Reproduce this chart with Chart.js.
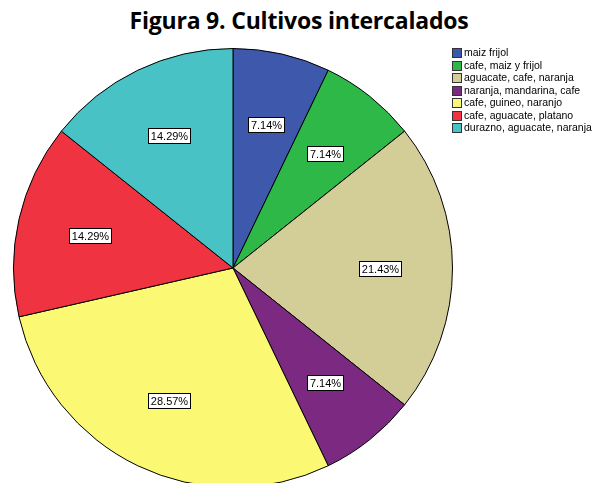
<!DOCTYPE html>
<html>
<head>
<meta charset="utf-8">
<script src="https://cdn.jsdelivr.net/npm/chart.js@4.4.1/dist/chart.umd.min.js"></script>
<style>
    html, body { margin: 0; padding: 0; background: #fff; overflow: hidden; }
    #wrap { position: relative; width: 592px; height: 483px; overflow: hidden; }
    #title {
        position: absolute; left: 0; top: 4px; width: 598px; text-align: center;
        font-family: 'Open Sans', sans-serif; font-weight: bold; font-size: 23px; color: #000;
        letter-spacing: -0.2px;
    }
    #chart { position: absolute; left: 0; top: 0; }
    #legend {
        position: absolute; left: 452px; top: 46px;
        font-family: 'Liberation Sans', Arial, sans-serif; font-size: 10.5px; color: #000;
    }
    #legend div { height: 12.5px; line-height: 12px; white-space: nowrap; }
    #legend span {
        display: inline-block; width: 10px; height: 10px; border: 1px solid #333;
        vertical-align: -2px; margin-right: 2px; box-sizing: border-box;
    }
</style>
</head>
<body>
<div id="wrap">
    <div id="title">Figura 9. Cultivos intercalados</div>
    <canvas id="chart" width="592" height="500"></canvas>
    <div id="legend"></div>
</div>
<script>
const categories = [
    'maiz frijol',
    'cafe, maiz y frijol',
    'aguacate, cafe, naranja',
    'naranja, mandarina, cafe',
    'cafe, guineo, naranjo',
    'cafe, aguacate, platano',
    'durazno, aguacate, naranja',
];
const counts = [1, 1, 3, 1, 4, 2, 2];
const percentLabels = ['7.14%', '7.14%', '21.43%', '7.14%', '28.57%', '14.29%', '14.29%'];
const colors = ['#3e58ac', '#2eb848', '#d3ce97', '#7c2a81', '#fbf873', '#ef3340', '#48c2c5'];

const legend = document.getElementById('legend');
categories.forEach((name, i) => {
    const row = document.createElement('div');
    row.innerHTML = '<span style="background:' + colors[i] + '"></span>' + name;
    legend.appendChild(row);
});

// boxed percentage labels inside each slice
const sliceLabels = {
    id: 'sliceLabels',
    afterDatasetsDraw(chart) {
        const ctx = chart.ctx;
        const arcs = chart.getDatasetMeta(0).data;
        ctx.save();
        ctx.font = '11px "Liberation Sans", Arial, sans-serif';
        ctx.textAlign = 'center';
        ctx.textBaseline = 'middle';
        arcs.forEach((arc, i) => {
            const mid = (arc.startAngle + arc.endAngle) / 2;
            const r = arc.outerRadius * 0.67;
            const x = arc.x + Math.cos(mid) * r;
            const y = arc.y + Math.sin(mid) * r;
            const text = percentLabels[i];
            const w = Math.round(ctx.measureText(text).width) + 5;
            const h = 15;
            const bx = Math.round(x - w / 2) + 0.5;
            const by = Math.round(y - h / 2) + 0.5;
            ctx.fillStyle = '#fff';
            ctx.fillRect(bx, by, w, h);
            ctx.strokeStyle = '#000';
            ctx.lineWidth = 1;
            ctx.strokeRect(bx, by, w, h);
            ctx.fillStyle = '#000';
            ctx.fillText(text, bx + w / 2, by + h / 2 + 0.5);
        });
        ctx.restore();
    },
};

new Chart(document.getElementById('chart'), {
    type: 'pie',
    data: {
        labels: categories,
        datasets: [
            {
                data: counts,
                backgroundColor: colors,
                borderColor: '#000',
                borderWidth: 1,
            },
        ],
    },
    options: {
        responsive: false,
        animation: false,
        events: [],
        layout: { padding: { left: 13, top: 48, right: 139, bottom: 12 } },
        plugins: {
            legend: { display: false },
            title: { display: false },
            tooltip: { enabled: false },
        },
    },
    plugins: [sliceLabels],
});
</script>
</body>
</html>
